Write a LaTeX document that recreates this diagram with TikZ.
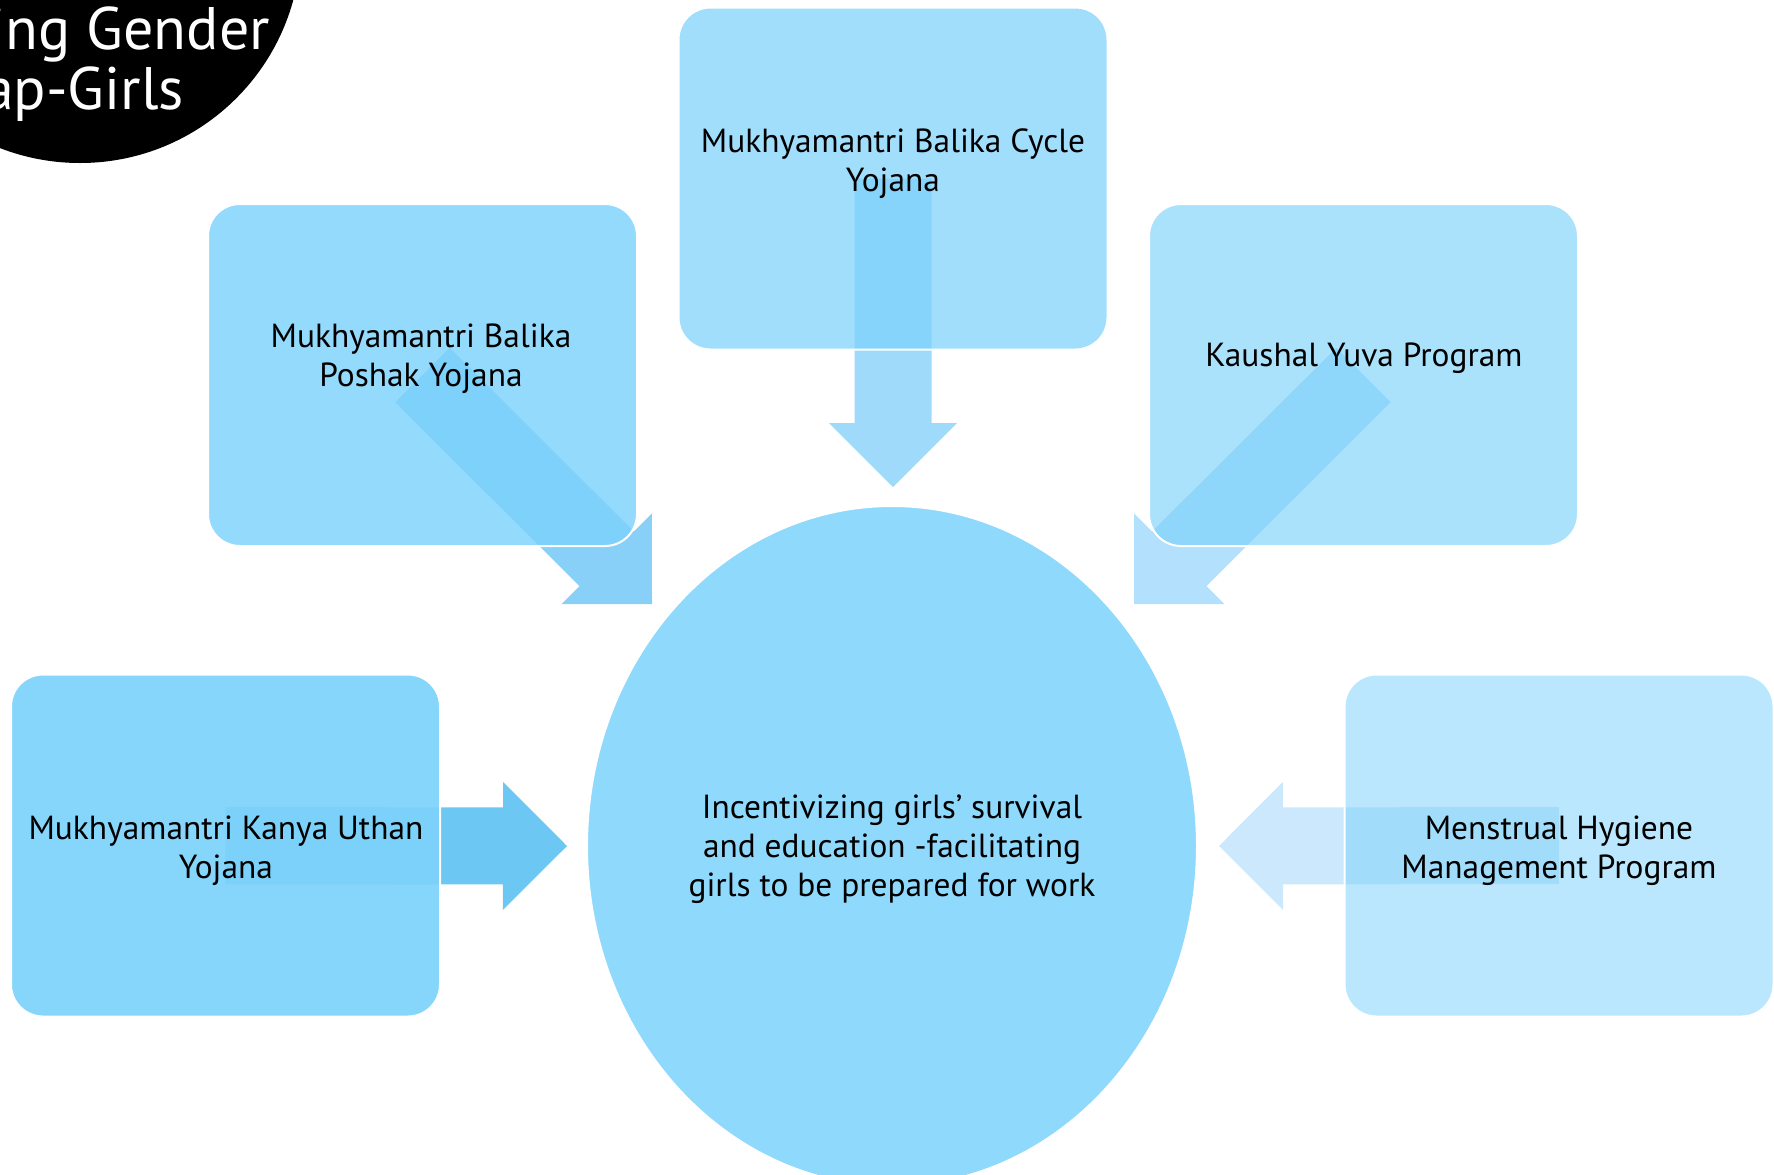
\documentclass[tikz,border=0pt]{standalone}
\usepackage{fontspec}
\setmainfont{PT Sans}
\usetikzlibrary{shapes.geometric,calc}
\pgfdeclarelayer{background}
\pgfsetlayers{background,main}

\tikzset{
  scheme/.style={draw=white, line width=1pt, rounded corners=16pt, minimum width=214.5pt, minimum height=171pt, inner sep=0pt, fill=schemebase},
  schemetext/.style={align=center, text=black, font=\fontsize{16.7}{19.4}\selectfont},
  hub/.style={ellipse, draw=white, line width=1pt, fill=hubfill, minimum width=305pt, minimum height=340pt, inner sep=0pt},
  headtext/.style={anchor=base east, text=white, font=\fontsize{30}{30}\selectfont}
}

% block arrow: from, to, colour
\newcommand\blockarrow[3]{%
  \coordinate (h) at ($(#2)!32pt!(#1)$);
  \fill[#3] ($(#1)!19.25pt!90:(#2)$) -- ($(h)!19.25pt!90:(#2)$) -- ($(h)!32pt!90:(#2)$) -- (#2)
    -- ($(h)!32pt!-90:(#2)$) -- ($(h)!19.25pt!-90:(#2)$) -- ($(#1)!19.25pt!-90:(#2)$) -- cycle;
}

\begin{document}
\begin{tikzpicture}[x=0.5pt,y=-0.5pt]
   \definecolor{schemebase}{HTML}{7DD2FB}
   \definecolor{hubfill}{HTML}{8FD9FC}
   \definecolor{arrowtop}{HTML}{A0DAFB}
   \definecolor{arrowul}{HTML}{88D0F7}
   \definecolor{arrowur}{HTML}{B3E0FD}
   \definecolor{arrowleft}{HTML}{6CC8F2}
   \definecolor{arrowright}{HTML}{CBE8FC}
   \useasboundingbox (0,0) rectangle (1774,1174);
   \clip (0,0) rectangle (1774,1174);

   \fill[black] (80,-58) circle[radius=110.5pt];
   \node[headtext] (head1) at (277,49) {ing Gender};
   \node[headtext] (head2) at (191,109) {ap-Girls};

   \node[hub] (hub) at (892,846) {};
   \node[scheme, fill opacity=0.73] (cycle) at (893,178.5) {};
   \node[scheme, fill opacity=0.83] (poshak) at (422.5,375) {};
   \node[scheme, fill opacity=0.65] (kaushal) at (1363.5,375) {};
   \node[scheme, fill opacity=0.93] (kanya) at (225.5,845.5) {};
   \node[scheme, fill opacity=0.53] (hygiene) at (1559,845.5) {};

   \coordinate (cycle-tip) at (893,487);
   \coordinate (poshak-tip) at (652,604);
   \coordinate (kaushal-tip) at (1134,604);
   \coordinate (kanya-tip) at (567,846);
   \coordinate (hygiene-tip) at (1219,846);

   \begin{pgfonlayer}{background}
   \blockarrow{cycle.center}{cycle-tip}{arrowtop}
   \blockarrow{poshak.center}{poshak-tip}{arrowul}
   \blockarrow{kaushal.center}{kaushal-tip}{arrowur}
   \blockarrow{kanya.center}{kanya-tip}{arrowleft}
   \blockarrow{hygiene.center}{hygiene-tip}{arrowright}
   \end{pgfonlayer}

   \node[schemetext] (cycle-t) at (893,163.5) {Mukhyamantri Balika Cycle\\Yojana};
   \node[schemetext] (poshak-t) at (421,358.5) {Mukhyamantri Balika\\Poshak Yojana};
   \node[schemetext] (kaushal-t) at (1364,358.5) {Kaushal Yuva Program};
   \node[schemetext] (kanya-t) at (226,850.5) {Mukhyamantri Kanya Uthan\\Yojana};
   \node[schemetext] (hygiene-t) at (1559,850.5) {Menstrual Hygiene\\Management Program};
   \node[schemetext] (hub-t) at (892,849.5) {Incentivizing girls’ survival\\and education -facilitating\\girls to be prepared for work};
\end{tikzpicture}
\end{document}
